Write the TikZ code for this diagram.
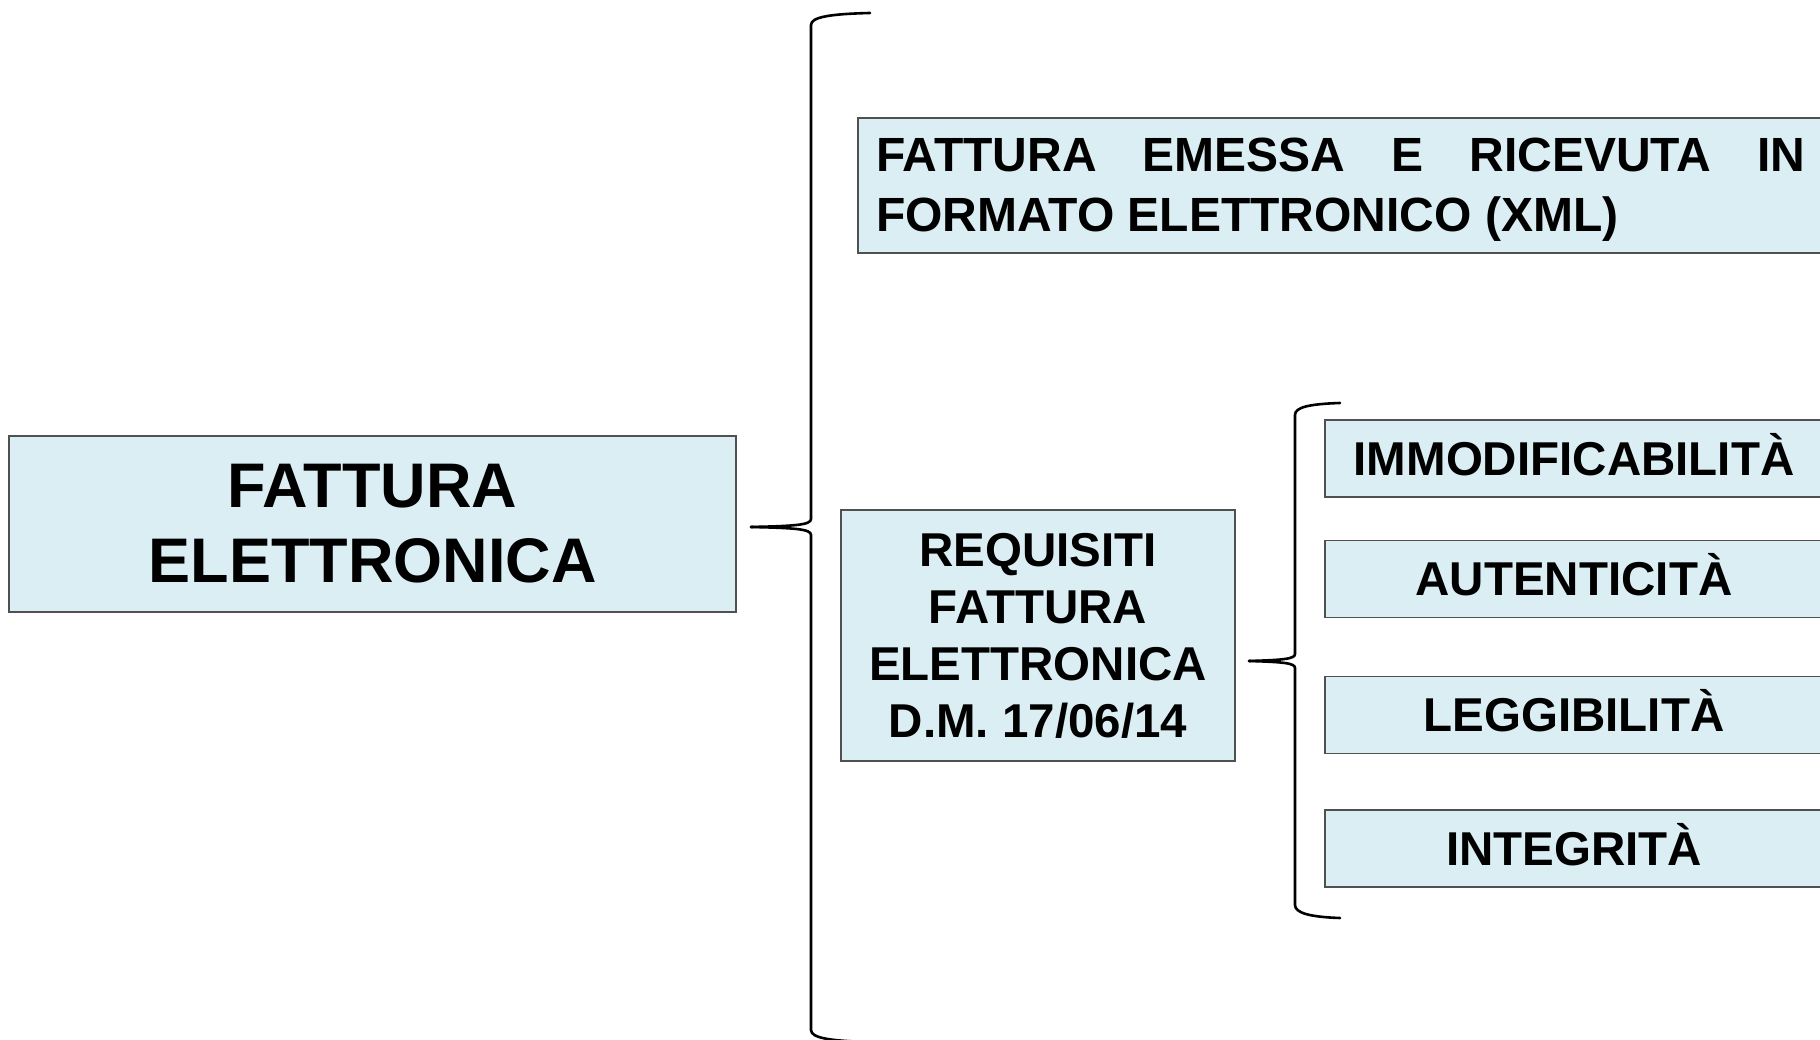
\documentclass[tikz,border=0pt]{standalone}
\usepackage{fontspec}
\setmainfont{Liberation Sans}
\usepackage{xcolor}
\definecolor{boxfill}{HTML}{DAEEF3}
\definecolor{boxline}{HTML}{505050}
\usetikzlibrary{positioning,calc}

\begin{document}
\begin{tikzpicture}[x=1pt, y=1pt,
        box/.style={draw=boxline, line width=1.6pt, fill=boxfill, inner sep=0pt,
            font=\bfseries\fontsize{47.5}{57}\selectfont},
        brace/.style={line width=2.6pt, line cap=round}]
        \useasboundingbox (0,0) rectangle (1820,1039);
        \clip (0,0) rectangle (1820,1039);

        % Main box
        \node[box, minimum width=727, minimum height=176, align=center,
            font=\bfseries\fontsize{63}{75}\selectfont] (main) at (372.5,515) {FATTURA\\ELETTRONICA};

        % Big brace
        \coordinate (bigtip) at (751,512);
        \draw[brace] (bigtip) .. controls (795,513) and (811,514) .. (811,520) -- (811,1014)
            .. controls (811,1022) and (830,1025) .. (870,1026);
        \draw[brace] (bigtip) .. controls (795,511) and (811,510) .. (811,504) -- (811,9)
            .. controls (811,1) and (830,-2) .. (870,-3);

        % Format box
        \node[box, minimum width=966, minimum height=135, text width=929, text height=42.5,
            align=justify, anchor=north west, font=\bfseries\fontsize{48}{60}\selectfont]
            (format) at (857,922)
            {\hyphenpenalty=10000\spaceskip=0.278em plus 1em\relax
             FATTURA EMESSA E RICEVUTA IN FORMATO ELETTRONICO (XML)};

        % Requisiti box
        \node[box, minimum width=394, minimum height=251, align=center] (req) at (1038,403.5)
            {REQUISITI\\FATTURA\\ELETTRONICA\\D.M. 17/06/14};

        % Small brace
        \coordinate (smalltip) at (1249,378);
        \draw[brace] (smalltip) .. controls (1283,379) and (1295,380) .. (1295,385) -- (1295,624)
            .. controls (1295,632) and (1310,635) .. (1340,636);
        \draw[brace] (smalltip) .. controls (1283,377) and (1295,376) .. (1295,371) -- (1295,134)
            .. controls (1295,126) and (1310,122) .. (1340,121);

        % Requirements
        \foreach \y/\nm/\txt in {580.5/imm/IMMODIFICABILITÀ, 460/aut/AUTENTICITÀ,
                324/leg/LEGGIBILITÀ, 190.5/int/INTEGRITÀ}
            \node[box, minimum width=498, minimum height=77, text height=34, text depth=0]
                (\nm) at (1574,\y) {\txt};
    \end{tikzpicture}
\end{document}
